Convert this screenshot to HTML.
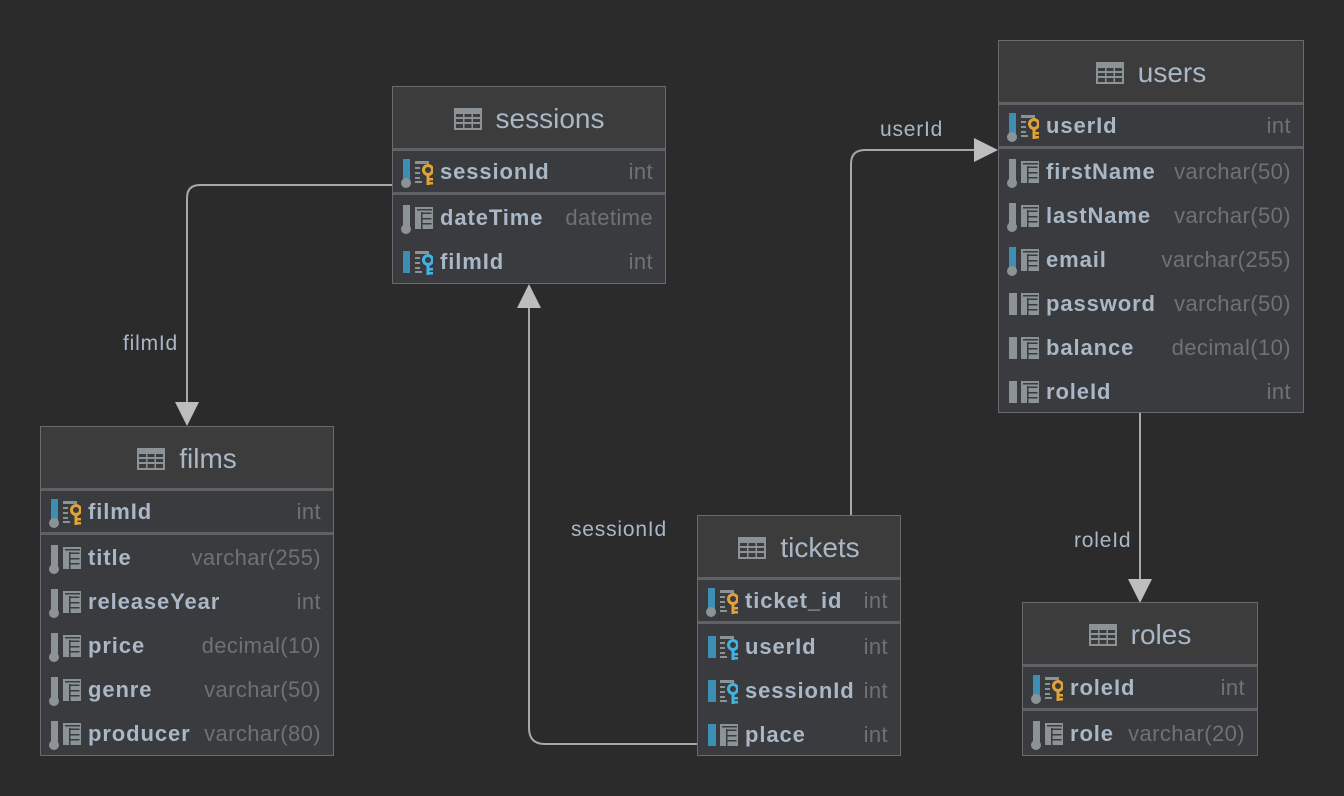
<!DOCTYPE html>
<html><head><meta charset="utf-8"><style>
*{margin:0;padding:0;box-sizing:border-box}
body{width:1344px;height:796px;background:#2b2b2b;position:relative;overflow:hidden;font-family:"Liberation Sans","DejaVu Sans",sans-serif}
.t{position:absolute;background:#393b3e;border:1px solid #6a6b6d}
.h{position:absolute;left:0;right:0;top:0;background:#3c3c3c;border-bottom:3px solid #5f6163;color:#a9b7c6;font-size:28px;text-align:center}
.h span{display:inline-flex;align-items:center;gap:14px}
.r{position:absolute;left:0;right:0;height:44px}
.r svg{position:absolute;left:0;top:0}
.n{position:absolute;left:47px;top:9px;font-weight:bold;font-size:22px;letter-spacing:0.9px;color:#a9b7c6}
.y{position:absolute;right:12px;top:9px;font-size:22px;letter-spacing:0.4px;color:#6f7275}
.sep{position:absolute;left:0;right:0;height:3px;background:#5f6163}
.lbl{position:absolute;color:#a9b7c6;font-size:21px;letter-spacing:0.8px}
</style></head><body>
<svg width="0" height="0" style="position:absolute">
<defs>
<symbol id="tb" viewBox="0 0 28 22"><rect x="0" y="0" width="28" height="22" fill="#8c9397"/><g fill="#3c3c3c"><rect x="2" y="6" width="7" height="3"/><rect x="10.5" y="6" width="7" height="3"/><rect x="19" y="6" width="7" height="3"/><rect x="2" y="11" width="7" height="3"/><rect x="10.5" y="11" width="7" height="3"/><rect x="19" y="11" width="7" height="3"/><rect x="2" y="16" width="7" height="4"/><rect x="10.5" y="16" width="7" height="4"/><rect x="19" y="16" width="7" height="4"/></g></symbol>
<symbol id="grid" viewBox="0 0 40 44"><rect x="22" y="11" width="18" height="22" fill="#8c9397"/><g fill="#393b3e"><rect x="28" y="16" width="1.5" height="17"/><rect x="29.5" y="16.5" width="9" height="1.5"/><rect x="29.5" y="22" width="9" height="1.5"/><rect x="29.5" y="27" width="9" height="1.5"/><rect x="24" y="13" width="15" height="1.5"/></g></symbol>
<symbol id="idx" viewBox="0 0 40 44"><g fill="#8c9397"><rect x="22" y="11" width="14" height="3"/><rect x="22" y="17" width="5" height="2"/><rect x="22" y="22" width="5" height="2"/><rect x="22" y="27" width="5" height="2"/><rect x="22" y="31" width="7" height="2"/></g></symbol>
<symbol id="kpk" viewBox="0 0 40 44"><circle cx="35" cy="20" r="4.5" fill="none" stroke="#e1a337" stroke-width="3"/><rect x="33.5" y="24" width="3" height="11" fill="#e1a337"/><rect x="36" y="28" width="4" height="2.5" fill="#e1a337"/><rect x="36" y="32" width="4" height="2.5" fill="#e1a337"/></symbol>
<symbol id="kfk" viewBox="0 0 40 44"><circle cx="35" cy="20" r="4.5" fill="none" stroke="#3fb4e4" stroke-width="3"/><rect x="33.5" y="24" width="3" height="11" fill="#3fb4e4"/><rect x="36" y="28" width="4" height="2.5" fill="#3fb4e4"/><rect x="36" y="32" width="4" height="2.5" fill="#3fb4e4"/></symbol>
</defs></svg>

<svg width="1344" height="796" style="position:absolute;left:0;top:0" fill="none">
<g stroke="#a8a8a8" stroke-width="2">
<path d="M392 185 H200 Q187 185 187 198 V404"/>
<path d="M697 744 H545 Q529 744 529 728 V306"/>
<path d="M851 515 V164 Q851 150 865 150 H976"/>
<path d="M1140 412 V580"/>
</g>
<g fill="#bdbdbd">
<polygon points="175,402 199,402 187,426"/>
<polygon points="517,308 541,308 529,284"/>
<polygon points="974,138 974,162 998,150"/>
<polygon points="1128,579 1152,579 1140,603"/>
</g>
</svg>
<div class="lbl" style="left:123px;top:332px">filmId</div>
<div class="lbl" style="left:571px;top:518px">sessionId</div>
<div class="lbl" style="left:880px;top:118px">userId</div>
<div class="lbl" style="left:1074px;top:529px">roleId</div>

<!-- sessions -->
<div class="t" style="left:392px;top:86px;width:274px;height:198px">
<div class="h" style="height:64px;line-height:64px"><span><svg width="28" height="22"><use href="#tb"/></svg>sessions</span></div>
<div class="r" style="top:63px"><svg width="44" height="44"><rect x="10" y="9" width="7" height="22" fill="#3d8eb3"/><circle cx="13" cy="33" r="5" fill="#8c9397"/><use href="#idx" width="40" height="44"/><use href="#kpk" width="40" height="44"/></svg><div class="n">sessionId</div><div class="y">int</div></div>
<div class="sep" style="top:105px"></div>
<div class="r" style="top:109px"><svg width="44" height="44"><rect x="10" y="9" width="7" height="22" fill="#8c9397"/><circle cx="13" cy="33" r="5" fill="#8c9397"/><use href="#grid" width="40" height="44"/></svg><div class="n">dateTime</div><div class="y">datetime</div></div>
<div class="r" style="top:153px"><svg width="44" height="44"><rect x="10" y="11" width="7" height="22" fill="#3d8eb3"/><use href="#idx" width="40" height="44"/><use href="#kfk" width="40" height="44"/></svg><div class="n">filmId</div><div class="y">int</div></div>
</div>

<!-- films -->
<div class="t" style="left:40px;top:426px;width:294px;height:330px">
<div class="h" style="height:64px;line-height:64px"><span><svg width="28" height="22"><use href="#tb"/></svg>films</span></div>
<div class="r" style="top:63px"><svg width="44" height="44"><rect x="10" y="9" width="7" height="22" fill="#3d8eb3"/><circle cx="13" cy="33" r="5" fill="#8c9397"/><use href="#idx" width="40" height="44"/><use href="#kpk" width="40" height="44"/></svg><div class="n">filmId</div><div class="y">int</div></div>
<div class="sep" style="top:105px"></div>
<div class="r" style="top:109px"><svg width="44" height="44"><rect x="10" y="9" width="7" height="22" fill="#8c9397"/><circle cx="13" cy="33" r="5" fill="#8c9397"/><use href="#grid" width="40" height="44"/></svg><div class="n">title</div><div class="y">varchar(255)</div></div>
<div class="r" style="top:153px"><svg width="44" height="44"><rect x="10" y="9" width="7" height="22" fill="#8c9397"/><circle cx="13" cy="33" r="5" fill="#8c9397"/><use href="#grid" width="40" height="44"/></svg><div class="n">releaseYear</div><div class="y">int</div></div>
<div class="r" style="top:197px"><svg width="44" height="44"><rect x="10" y="9" width="7" height="22" fill="#8c9397"/><circle cx="13" cy="33" r="5" fill="#8c9397"/><use href="#grid" width="40" height="44"/></svg><div class="n">price</div><div class="y">decimal(10)</div></div>
<div class="r" style="top:241px"><svg width="44" height="44"><rect x="10" y="9" width="7" height="22" fill="#8c9397"/><circle cx="13" cy="33" r="5" fill="#8c9397"/><use href="#grid" width="40" height="44"/></svg><div class="n">genre</div><div class="y">varchar(50)</div></div>
<div class="r" style="top:285px"><svg width="44" height="44"><rect x="10" y="9" width="7" height="22" fill="#8c9397"/><circle cx="13" cy="33" r="5" fill="#8c9397"/><use href="#grid" width="40" height="44"/></svg><div class="n">producer</div><div class="y">varchar(80)</div></div>
</div>

<!-- users -->
<div class="t" style="left:998px;top:40px;width:306px;height:373px">
<div class="h" style="height:64px;line-height:64px"><span><svg width="28" height="22"><use href="#tb"/></svg>users</span></div>
<div class="r" style="top:63px"><svg width="44" height="44"><rect x="10" y="9" width="7" height="22" fill="#3d8eb3"/><circle cx="13" cy="33" r="5" fill="#8c9397"/><use href="#idx" width="40" height="44"/><use href="#kpk" width="40" height="44"/></svg><div class="n">userId</div><div class="y">int</div></div>
<div class="sep" style="top:105px"></div>
<div class="r" style="top:109px"><svg width="44" height="44"><rect x="10" y="9" width="7" height="22" fill="#8c9397"/><circle cx="13" cy="33" r="5" fill="#8c9397"/><use href="#grid" width="40" height="44"/></svg><div class="n">firstName</div><div class="y">varchar(50)</div></div>
<div class="r" style="top:153px"><svg width="44" height="44"><rect x="10" y="9" width="7" height="22" fill="#8c9397"/><circle cx="13" cy="33" r="5" fill="#8c9397"/><use href="#grid" width="40" height="44"/></svg><div class="n">lastName</div><div class="y">varchar(50)</div></div>
<div class="r" style="top:197px"><svg width="44" height="44"><rect x="10" y="9" width="7" height="22" fill="#3d8eb3"/><circle cx="13" cy="33" r="5" fill="#8c9397"/><use href="#grid" width="40" height="44"/></svg><div class="n">email</div><div class="y">varchar(255)</div></div>
<div class="r" style="top:241px"><svg width="44" height="44"><rect x="10" y="11" width="8" height="22" fill="#8c9397"/><use href="#grid" width="40" height="44"/></svg><div class="n">password</div><div class="y">varchar(50)</div></div>
<div class="r" style="top:285px"><svg width="44" height="44"><rect x="10" y="11" width="8" height="22" fill="#8c9397"/><use href="#grid" width="40" height="44"/></svg><div class="n">balance</div><div class="y">decimal(10)</div></div>
<div class="r" style="top:329px"><svg width="44" height="44"><rect x="10" y="11" width="8" height="22" fill="#8c9397"/><use href="#grid" width="40" height="44"/></svg><div class="n">roleId</div><div class="y">int</div></div>
</div>

<!-- tickets -->
<div class="t" style="left:697px;top:515px;width:204px;height:241px">
<div class="h" style="height:64px;line-height:64px"><span><svg width="28" height="22"><use href="#tb"/></svg>tickets</span></div>
<div class="r" style="top:63px"><svg width="44" height="44"><rect x="10" y="9" width="7" height="22" fill="#3d8eb3"/><circle cx="13" cy="33" r="5" fill="#8c9397"/><use href="#idx" width="40" height="44"/><use href="#kpk" width="40" height="44"/></svg><div class="n">ticket_id</div><div class="y">int</div></div>
<div class="sep" style="top:105px"></div>
<div class="r" style="top:109px"><svg width="44" height="44"><rect x="10" y="11" width="8" height="22" fill="#3d8eb3"/><use href="#idx" width="40" height="44"/><use href="#kfk" width="40" height="44"/></svg><div class="n">userId</div><div class="y">int</div></div>
<div class="r" style="top:153px"><svg width="44" height="44"><rect x="10" y="11" width="8" height="22" fill="#3d8eb3"/><use href="#idx" width="40" height="44"/><use href="#kfk" width="40" height="44"/></svg><div class="n">sessionId</div><div class="y">int</div></div>
<div class="r" style="top:197px"><svg width="44" height="44"><rect x="10" y="11" width="8" height="22" fill="#3d8eb3"/><use href="#grid" width="40" height="44"/></svg><div class="n">place</div><div class="y">int</div></div>
</div>

<!-- roles -->
<div class="t" style="left:1022px;top:602px;width:236px;height:154px">
<div class="h" style="height:64px;line-height:64px"><span><svg width="28" height="22"><use href="#tb"/></svg>roles</span></div>
<div class="r" style="top:63px"><svg width="44" height="44"><rect x="10" y="9" width="7" height="22" fill="#3d8eb3"/><circle cx="13" cy="33" r="5" fill="#8c9397"/><use href="#idx" width="40" height="44"/><use href="#kpk" width="40" height="44"/></svg><div class="n">roleId</div><div class="y">int</div></div>
<div class="sep" style="top:105px"></div>
<div class="r" style="top:109px"><svg width="44" height="44"><rect x="10" y="9" width="7" height="22" fill="#8c9397"/><circle cx="13" cy="33" r="5" fill="#8c9397"/><use href="#grid" width="40" height="44"/></svg><div class="n">role</div><div class="y">varchar(20)</div></div>
</div>
</body></html>
